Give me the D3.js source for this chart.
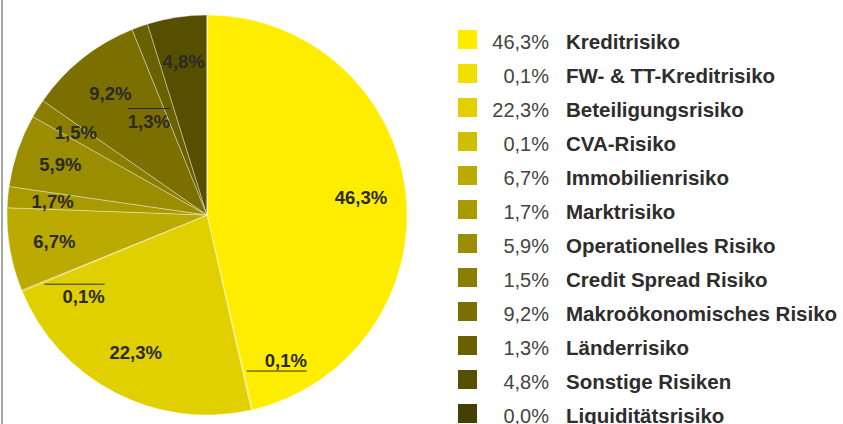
<!DOCTYPE html>
<html>
<head>
<meta charset="utf-8">
<script src="https://cdn.jsdelivr.net/npm/d3@7"></script>
<style>
  body { margin: 0; background: #fff; }
  svg { display: block; font-family: "Liberation Sans", Arial, sans-serif; }
</style>
</head>
<body>
<div id="chart"></div>
<script>
// data
var categories = ["Kreditrisiko", "FW- & TT-Kreditrisiko", "Beteiligungsrisiko", "CVA-Risiko",
  "Immobilienrisiko", "Marktrisiko", "Operationelles Risiko", "Credit Spread Risiko",
  "Makroökonomisches Risiko", "Länderrisiko", "Sonstige Risiken", "Liquiditätsrisiko"];
var values = [46.3, 0.1, 22.3, 0.1, 6.7, 1.7, 5.9, 1.5, 9.2, 1.3, 4.8, 0.0];
var colors = ["#ffed00", "#f0df00", "#e0d000", "#cec000", "#bbab00", "#a99a00",
  "#9a8d00", "#8a7e00", "#7a6f00", "#696000", "#574f00", "#453f00"];

// small slices get their label moved off the centroid, with a short rule
var callouts = {
  1: {dx: 44, dy: -6, rule: "below"},
  3: {dx: 20, dy: 23, rule: "above"},
  9: {dx: -6, dy: 52, rule: "above", flush: true}
};

var width = 843, height = 424;
var cx = 207, cy = 215, radius = 200;

function pct(v) { return v.toFixed(1).replace(".", ",") + "%"; }

var svg = d3.select("#chart")
  .append("svg")
    .attr("width", width)
    .attr("height", height);

// grey rule down the left edge
svg.append("line")
  .attr("x1", 2).attr("x2", 2)
  .attr("y1", 0).attr("y2", height)
  .attr("stroke", "#8a8a8a")
  .attr("stroke-width", 1.5);

var pie = d3.pie().sort(null).value(function(d) { return d; });
var arcs = pie(values);

var arc = d3.arc().innerRadius(0).outerRadius(radius);
var labelArc = d3.arc().innerRadius(155).outerRadius(155);

var g = svg.append("g")
  .attr("transform", "translate(" + cx + "," + cy + ")");

g.selectAll("path")
  .data(arcs)
  .enter()
  .append("path")
    .attr("d", arc)
    .attr("fill", function(d, i) { return colors[i]; })
    .attr("stroke", "rgba(255,255,255,0.45)")
    .attr("stroke-width", 0.8);

// labels in the slices
var labels = g.selectAll(".slice-label")
  .data(arcs.filter(function(d) { return d.value > 0; }))
  .enter()
  .append("g")
    .attr("class", "slice-label")
    .attr("transform", function(d) {
      var c = labelArc.centroid(d);
      var o = callouts[d.index];
      if (o) { c[0] += o.dx; c[1] += o.dy; }
      return "translate(" + c[0] + "," + (c[1] + 6.5) + ")";
    });

labels.append("text")
  .attr("text-anchor", "middle")
  .attr("font-size", 18.5)
  .attr("font-weight", "bold")
  .attr("fill", "#2b2a26")
  .text(function(d) { return pct(d.value); });

labels.each(function(d) {
  var o = callouts[d.index];
  if (!o) return;
  var bb = d3.select(this).select("text").node().getBBox();
  var x0 = o.flush ? bb.x : bb.x - 18;
  var y = o.rule === "above" ? -19 : 4.5;
  d3.select(this).append("line")
    .attr("x1", x0).attr("x2", bb.x + bb.width)
    .attr("y1", y).attr("y2", y)
    .attr("stroke", "#2b2a26")
    .attr("stroke-width", 1);
});

// legend
var legend = svg.append("g")
  .attr("transform", "translate(458,30)");

var rows = legend.selectAll("g")
  .data(categories)
  .enter()
  .append("g")
    .attr("transform", function(d, i) { return "translate(0," + (i * 34) + ")"; });

rows.append("rect")
  .attr("width", 19)
  .attr("height", 19)
  .attr("fill", function(d, i) { return colors[i]; });

rows.append("text")
  .attr("x", 91)
  .attr("y", 19)
  .attr("text-anchor", "end")
  .attr("font-size", 20)
  .attr("fill", "#444")
  .text(function(d, i) { return pct(values[i]); });

rows.append("text")
  .attr("x", 108)
  .attr("y", 19)
  .attr("font-size", 20.5)
  .attr("font-weight", "bold")
  .attr("fill", "#2e2c2c")
  .text(function(d) { return d; });
</script>
</body>
</html>
